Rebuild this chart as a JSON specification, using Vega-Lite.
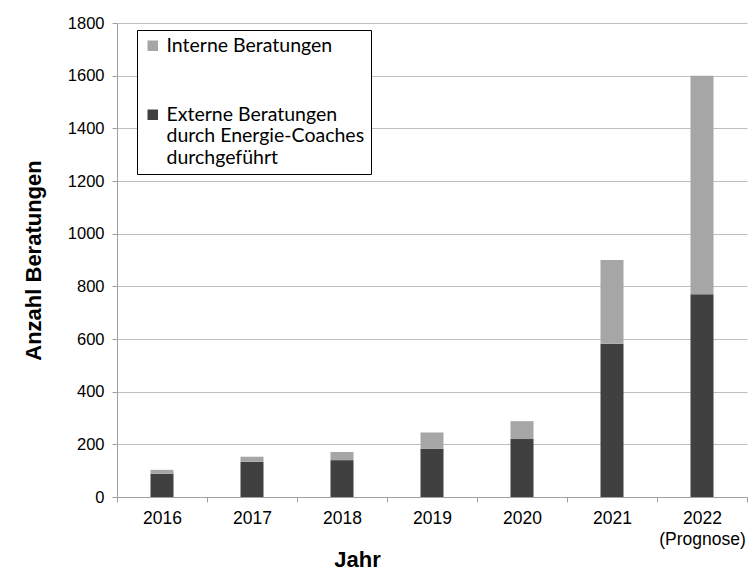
{
  "$schema": "https://vega.github.io/schema/vega-lite/v6.json",
  "width": 630,
  "height": 474,
  "autosize": {"type": "none"},
  "padding": {"left": 117, "top": 23, "right": 2, "bottom": 74},
  "background": "white",
  "data": {
    "values": [
      {"Jahr": "2016", "Art": "Externe Beratungen durch Energie-Coaches durchgeführt", "Anzahl": 88},
      {"Jahr": "2016", "Art": "Interne Beratungen", "Anzahl": 15},
      {"Jahr": "2017", "Art": "Externe Beratungen durch Energie-Coaches durchgeführt", "Anzahl": 134},
      {"Jahr": "2017", "Art": "Interne Beratungen", "Anzahl": 19},
      {"Jahr": "2018", "Art": "Externe Beratungen durch Energie-Coaches durchgeführt", "Anzahl": 140},
      {"Jahr": "2018", "Art": "Interne Beratungen", "Anzahl": 31},
      {"Jahr": "2019", "Art": "Externe Beratungen durch Energie-Coaches durchgeführt", "Anzahl": 183},
      {"Jahr": "2019", "Art": "Interne Beratungen", "Anzahl": 62},
      {"Jahr": "2020", "Art": "Externe Beratungen durch Energie-Coaches durchgeführt", "Anzahl": 220},
      {"Jahr": "2020", "Art": "Interne Beratungen", "Anzahl": 68},
      {"Jahr": "2021", "Art": "Externe Beratungen durch Energie-Coaches durchgeführt", "Anzahl": 582},
      {"Jahr": "2021", "Art": "Interne Beratungen", "Anzahl": 318},
      {"Jahr": "2022", "Art": "Externe Beratungen durch Energie-Coaches durchgeführt", "Anzahl": 770},
      {"Jahr": "2022", "Art": "Interne Beratungen", "Anzahl": 830}
    ]
  },
  "mark": {"type": "bar", "size": 23},
  "encoding": {
    "x": {
      "field": "Jahr",
      "type": "nominal",
      "scale": {"paddingInner": 0, "paddingOuter": 0},
      "axis": {
        "title": "Jahr",
        "titleFont": "Liberation Sans",
        "titleFontSize": 22,
        "titleFontWeight": "bold",
        "titleColor": "black",
        "titleX": 240,
        "titleAlign": "center",
        "titlePadding": 2,
        "labelAngle": 0,
        "labelFont": "Liberation Sans",
        "labelFontSize": 17.5,
        "labelLineHeight": 21,
        "labelColor": "black",
        "labelPadding": 7,
        "labelExpr": "datum.value == '2022' ? ['2022', '(Prognose)'] : datum.label",
        "tickBand": "extent",
        "tickSize": 5,
        "tickColor": "#a0a0a0",
        "domainColor": "#a0a0a0"
      }
    },
    "y": {
      "field": "Anzahl",
      "type": "quantitative",
      "aggregate": "sum",
      "scale": {"domain": [0, 1800]},
      "axis": {
        "title": "Anzahl Beratungen",
        "titleFont": "Liberation Sans",
        "titleFontSize": 22,
        "titleFontWeight": "bold",
        "titleColor": "black",
        "titlePadding": 22,
        "values": [0, 200, 400, 600, 800, 1000, 1200, 1400, 1600, 1800],
        "labelFont": "Liberation Sans",
        "labelFontSize": 16.5,
        "labelColor": "black",
        "labelPadding": 8,
        "tickSize": 5,
        "tickColor": "#a0a0a0",
        "domainColor": "#a0a0a0",
        "gridColor": "#bfbfbf",
        "format": "d"
      }
    },
    "color": {
      "field": "Art",
      "type": "nominal",
      "scale": {
        "domain": ["Interne Beratungen", "Externe Beratungen durch Energie-Coaches durchgeführt"],
        "range": ["#a6a6a6", "#404040"]
      },
      "legend": {
        "title": null,
        "orient": "none",
        "legendX": 20,
        "legendY": 7,
        "direction": "vertical",
        "strokeColor": "black",
        "padding": 6,
        "fillColor": "white",
        "symbolType": "square",
        "symbolSize": 110,
        "symbolStrokeWidth": 0,
        "labelFont": "Lato",
        "labelFontSize": 19.5,
        "labelLineHeight": 25,
        "labelColor": "black",
        "labelLimit": 300,
        "rowPadding": 48,
        "labelExpr": "datum.value == 'Interne Beratungen' ? datum.label : ['Externe Beratungen', 'durch Energie-Coaches', 'durchgeführt']"
      }
    },
    "order": {"field": "Art", "sort": "ascending"}
  },
  "config": {
    "view": {"stroke": null},
    "axis": {"gridColor": "#bfbfbf"}
  }
}
